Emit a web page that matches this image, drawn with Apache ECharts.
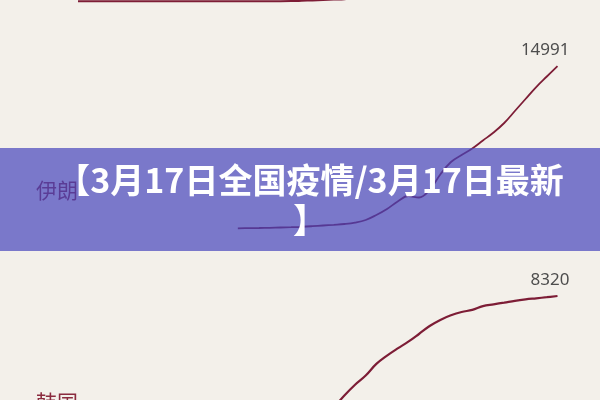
<!DOCTYPE html>
<html>
<head>
<meta charset="utf-8">
<script src="https://cdn.jsdelivr.net/npm/echarts@6/dist/echarts.min.js"></script>
<style>
html,body{margin:0;padding:0;background:#f3f0ea;}
#c{width:600px;height:400px;}
</style>
</head>
<body>
<div id="c"></div>
<script>
var dates = ['2/1','2/2','2/3','2/4','2/5','2/6','2/7','2/8','2/9','2/10','2/11','2/12','2/13','2/14','2/15','2/16','2/17','2/18','2/19','2/20','2/21','2/22','2/23','2/24','2/25','2/26','2/27','2/28','2/29','3/1','3/2','3/3','3/4','3/5','3/6','3/7','3/8','3/9','3/10','3/11','3/12','3/13','3/14','3/15','3/16','3/17'];

var topCountryValues = [2,2,2,2,2,2,2,2,2,3,3,3,3,3,3,3,3,3,3,3,20,79,150,229,322,400,650,888,1128,1694,2036,2502,3089,3858,4636,5883,7375,9172,10149,12462,15113,17660,21157,24747,27980,31506];

var iranValues = [null,null,null,null,null,null,null,null,null,null,null,null,null,null,null,18,37,46,65,92,120,157,212,277,342,415,545,785,1246,1800,2492,3000,2861,3554,4984,6138,6784,7384,8122,8861,9738,10845,11953,13060,14030,14991];

var koreaValues = [null,null,null,null,null,null,null,null,null,null,null,null,null,null,null,null,null,null,null,null,null,null,null,null,565,1421,2170,2808,3612,4188,4687,5151,5685,6240,6663,6982,7210,7356,7620,7744,7862,7987,8084,8160,8236,8320];

var countryNames = ['伊朗', '韩国'];
var bannerText = '【3月17日全国疫情/3月17日最新\n】';

var lineColor = '#7d1d36';

function withEndLabel(arr) {
  return arr.map(function (v, i) {
    if (i === arr.length - 1) {
      return { value: v, label: { show: true } };
    }
    return v;
  });
}

function lineSeries(idx, arr, showEnd, width) {
  return {
    type: 'line',
    xAxisIndex: idx,
    yAxisIndex: idx,
    data: showEnd ? withEndLabel(arr) : arr,
    smooth: 0.4,
    showSymbol: true,
    showAllSymbol: true,
    symbol: 'circle',
    symbolSize: 0,
    itemStyle: { color: 'rgba(0,0,0,0)' },
    clip: false,
    connectNulls: false,
    lineStyle: { color: lineColor, width: width },
    label: {
      show: false,
      position: 'top',
      align: 'right',
      distance: 7,
      offset: [12, 0],
      color: '#4d4d4d',
      fontSize: 17,
      fontFamily: 'Noto Sans'
    },
    emphasis: { disabled: true },
    silent: true
  };
}

var chart = echarts.init(document.getElementById('c'), null, { renderer: 'canvas' });

var xAxisBase = { type: 'category', data: dates, boundaryGap: false, show: false };

chart.setOption({
  animation: false,
  backgroundColor: '#f3f0ea',
  grid: [
    { left: 78, right: 42.5, top: 0, height: 1.2, outerBoundsMode: 'none', containLabel: false },
    { left: 78, right: 42.5, top: 66, height: 162.5, outerBoundsMode: 'none', containLabel: false },
    { left: 78, right: 42.5, top: 296, height: 104, outerBoundsMode: 'none', containLabel: false }
  ],
  xAxis: [
    Object.assign({ gridIndex: 0 }, xAxisBase),
    Object.assign({ gridIndex: 1 }, xAxisBase),
    Object.assign({ gridIndex: 2 }, xAxisBase)
  ],
  yAxis: [
    { type: 'value', gridIndex: 0, min: 0, max: 235, show: false },
    { type: 'value', gridIndex: 1, min: 0, max: 15000, show: false },
    { type: 'value', gridIndex: 2, min: 1109, max: 8320, show: false }
  ],
  series: [
    lineSeries(0, topCountryValues, false, 2),
    lineSeries(1, iranValues, true, 1.8),
    lineSeries(2, koreaValues, true, 2.2)
  ],
  graphic: [
    {
      type: 'text', left: 36, top: 180, z: 5,
      style: { text: countryNames[0], fill: '#8b2b3f', font: '21px "Noto Sans CJK SC"' }
    },
    {
      type: 'text', left: 36, top: 392, z: 5,
      style: { text: countryNames[1], fill: '#8b2b3f', font: '21px "Noto Sans CJK SC"' }
    },
    {
      type: 'rect', z: 100,
      shape: { x: 0, y: 148, width: 600, height: 103 },
      style: { fill: 'rgba(70,69,188,0.7)' }
    },
    {
      type: 'text', z: 101,
      x: 310, y: 200.5,
      style: {
        text: bannerText,
        fill: '#ffffff',
        font: 'bold 34px "Noto Sans CJK SC"',
        align: 'center',
        verticalAlign: 'middle',
        lineHeight: 40
      }
    }
  ]
});
</script>
</body>
</html>
